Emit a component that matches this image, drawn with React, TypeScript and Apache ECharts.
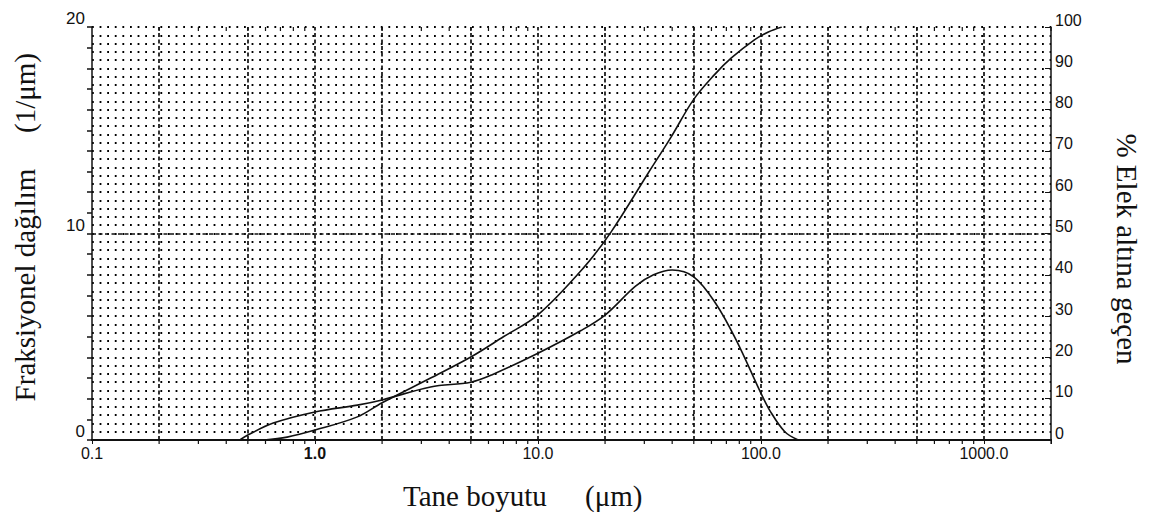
import React, { useEffect, useRef } from "react";
import * as echarts from "echarts";

// Fraksiyonel dağılım (1/µm) — frequency curve
const freqSizes = [0.46, 0.5, 0.65, 1.0, 1.55, 2.0, 3.3, 5.0, 6.2, 10, 15.6, 20, 27.4, 33, 40, 50, 62.8, 77.5, 100, 110, 128, 147];
const freqValues = [0, 0.24, 0.82, 1.36, 1.69, 1.94, 2.57, 2.8, 3.15, 4.2, 5.3, 6.05, 7.45, 8.0, 8.23, 7.9, 6.6, 4.84, 2.27, 1.4, 0.4, 0];

// % Elek altına geçen — cumulative curve
const cumSizes = [0.59, 0.75, 1.0, 1.55, 2.0, 3.3, 5.0, 7.0, 10, 15.9, 21.3, 31.2, 39.6, 49.7, 61.8, 73.7, 93.5, 108, 124];
const cumValues = [0, 0.7, 2.4, 5.6, 9.0, 15, 20.1, 25, 30.3, 41.5, 50.4, 64.6, 73.4, 82.3, 88.4, 92.5, 96.9, 98.8, 100];

// reference lines
const dashedSizes = [0.2, 0.5, 1, 2, 5, 10, 20, 50, 100, 200, 500, 1000];
const dashedLeftValue = 10;

// x tick labels (decades) and minor tick multipliers
const xDecades = [0.1, 1, 10, 100, 1000];
const minorMultipliers = [2, 3, 4, 5, 6, 7, 8, 9];

const minorTickValues: number[] = [];
xDecades.forEach((d) => {
  minorMultipliers.forEach((m) => {
    const v = +(d * m).toPrecision(6);
    if (v <= 2000) minorTickValues.push(v);
  });
});

const SERIF = "'Liberation Serif', 'Times New Roman', serif";
const SANS = "'Liberation Sans', Arial, sans-serif";

export default function App() {
  const ref = useRef<HTMLDivElement>(null);

  useEffect(() => {
    if (!ref.current) return;
    const chart = echarts.init(ref.current, undefined, { renderer: "svg" });

    const dotStyle = { color: "#000", width: 1.8, type: [1.8, 5.8] as number[] };

    const option: any = {
      animation: false,
      backgroundColor: "#ffffff",
      grid: { left: 92, right: 101, top: 27, bottom: 72, containLabel: false },
      xAxis: [
        {
          type: "log",
          logBase: 10,
          min: 0.1,
          max: 2000,
          position: "bottom",
          axisLine: { show: true, lineStyle: { color: "#111", width: 2 } },
          axisTick: { show: true, length: 4, lineStyle: { color: "#111" } },
          splitLine: { show: false },
          axisLabel: {
            show: true,
            margin: 5,
            fontSize: 16,
            fontFamily: SANS,
            color: "#111",
            showMaxLabel: false,
            formatter: (v: number) => {
              const l = Math.log10(v);
              if (Math.abs(l - Math.round(l)) > 1e-6) return "";
              const s = v.toFixed(1);
              return s === "1.0" ? "{b|" + s + "}" : s;
            },
            rich: { b: { fontWeight: "bold", fontSize: 16, fontFamily: SANS, color: "#111" } },
          },
        },
        {
          type: "log",
          logBase: 10,
          min: 0.1,
          max: 2000,
          position: "top",
          axisLine: { show: true, lineStyle: { color: "#111", width: 2 } },
          axisTick: { show: true, inside: true, length: 4, lineStyle: { color: "#111" } },
          axisLabel: { show: false },
          splitLine: { show: false },
        },
      ],
      yAxis: [
        {
          type: "value",
          position: "left",
          min: 0,
          max: 20,
          interval: 10,
          axisLine: { show: true, lineStyle: { color: "#111", width: 1.5 } },
          axisTick: { show: true, length: 5, lineStyle: { color: "#111", width: 1.5 } },
          minorTick: { show: true, splitNumber: 10, length: 5, lineStyle: { color: "#111", width: 1.5 } },
          splitLine: { show: false },
          axisLabel: {
            margin: 7,
            fontSize: 17,
            fontFamily: SANS,
            color: "#111",
            verticalAlign: "bottom",
            lineHeight: 17,
          },
        },
        {
          type: "value",
          position: "right",
          min: 0,
          max: 100,
          interval: 10,
          axisLine: { show: true, lineStyle: { color: "#111", width: 1.5 } },
          axisTick: { show: true, inside: true, length: 6, lineStyle: { color: "#111" } },
          minorTick: { show: false, splitNumber: 5 },
          splitLine: { show: true, lineStyle: dotStyle },
          minorSplitLine: { show: true, lineStyle: dotStyle },
          axisLabel: {
            margin: 4,
            fontSize: 16,
            fontFamily: SANS,
            color: "#111",
            verticalAlign: "bottom",
            lineHeight: 14,
          },
        },
      ],
      graphic: [
        {
          type: "text",
          x: 25,
          y: 285,
          rotation: Math.PI / 2,
          style: { text: "Fraksiyonel dağılım", font: `29px ${SERIF}`, fill: "#111", align: "center", verticalAlign: "middle" },
        },
        {
          type: "text",
          x: 25,
          y: 93,
          rotation: Math.PI / 2,
          style: { text: "(1/μm)", font: `29px ${SERIF}`, fill: "#111", align: "center", verticalAlign: "middle" },
        },
        {
          type: "text",
          x: 1127,
          y: 249,
          rotation: -Math.PI / 2,
          style: { text: "% Elek altına geçen", font: `29px ${SERIF}`, fill: "#111", align: "center", verticalAlign: "middle" },
        },
        {
          type: "text",
          x: 403,
          y: 496,
          style: { text: "Tane boyutu", font: `29px ${SERIF}`, fill: "#111", align: "left", verticalAlign: "middle" },
        },
        {
          type: "text",
          x: 585,
          y: 496,
          style: { text: "(μm)", font: `29px ${SERIF}`, fill: "#111", align: "left", verticalAlign: "middle" },
        },
      ],
      series: [
        {
          name: "Fraksiyonel dağılım",
          type: "line",
          xAxisIndex: 0,
          yAxisIndex: 0,
          smooth: 0.35,
          showSymbol: false,
          symbol: "none",
          lineStyle: { color: "#111", width: 1.6 },
          data: freqSizes.map((s, i) => [s, freqValues[i]]),
          markLine: {
            silent: true,
            symbol: "none",
            label: { show: false },
            lineStyle: { color: "#111", width: 1.7, type: [4, 2.5] },
            data: [
              ...dashedSizes.map((v) => ({ xAxis: v })),
              { yAxis: dashedLeftValue },
            ],
          },
        },
        {
          name: "% Elek altına geçen",
          type: "line",
          xAxisIndex: 0,
          yAxisIndex: 1,
          smooth: 0.35,
          showSymbol: false,
          symbol: "none",
          lineStyle: { color: "#111", width: 1.6 },
          data: cumSizes.map((s, i) => [s, cumValues[i]]),
        },
        {
          name: "minor ticks",
          type: "custom",
          xAxisIndex: 0,
          yAxisIndex: 0,
          silent: true,
          clip: false,
          data: minorTickValues.map((v) => [v, 0]),
          renderItem: (params: any, api: any) => {
            const x = api.coord([api.value(0), 0])[0];
            const cs = params.coordSys;
            const yb = cs.y + cs.height;
            const yt = cs.y;
            return {
              type: "group",
              children: [
                { type: "line", shape: { x1: x, y1: yb, x2: x, y2: yb + 4 }, style: { stroke: "#111", lineWidth: 1.2 } },
                { type: "line", shape: { x1: x, y1: yt, x2: x, y2: yt + 4 }, style: { stroke: "#111", lineWidth: 1.2 } },
              ],
            };
          },
        },
      ],
    };

    chart.setOption(option);
    return () => chart.dispose();
  }, []);

  return (
    <div
      ref={ref}
      style={{ position: "fixed", left: 0, top: 0, width: 1152, height: 512, background: "#fff" }}
    />
  );
}
